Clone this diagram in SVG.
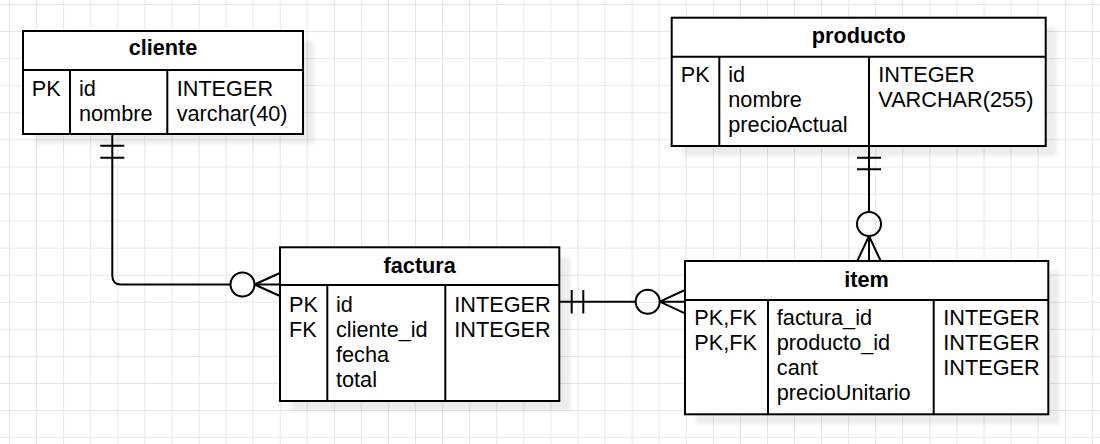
<svg xmlns="http://www.w3.org/2000/svg" width="1100" height="444" viewBox="0 0 1100 444">
<defs>
<pattern id="grid" x="9" y="4" width="27.07" height="27.07" patternUnits="userSpaceOnUse">
<path d="M0,0 H27.07 M0,0 V27.07" stroke="#e0e0e0" stroke-width="1.6" fill="none"/>
</pattern>
<filter id="blur" x="-10%" y="-10%" width="120%" height="120%"><feGaussianBlur stdDeviation="2"/></filter>
<style>
.t{font-family:"Liberation Sans",Arial,Helvetica,sans-serif;font-size:21.7px;fill:#000}
.h{font-weight:bold;text-anchor:middle}
.box{fill:#fff;stroke:#000;stroke-width:2}
.ln{stroke:#000;stroke-width:2;fill:none}
.sh{fill:#000;opacity:0.07;filter:url(#blur)}
</style>
</defs>
<rect width="1100" height="444" fill="#fff"/>
<rect width="1100" height="444" fill="url(#grid)"/>

<g id="connectors">
<!-- cliente to factura -->
<path class="ln" d="M112.3,134.3 V275.5 Q112.3,284.5 121.3,284.5 H230.5"/>
<path class="ln" d="M100.3,145.7 H124.3 M100.3,157.7 H124.3"/>
<circle class="ln" cx="242.5" cy="284.5" r="12"/>
<path class="ln" d="M254.5,284.5 L280,273 M254.5,284.5 L280,296 M254.5,284.5 H280"/>
<!-- producto to item -->
<path class="ln" d="M869,146 V212"/>
<path class="ln" d="M857,157.7 H881 M857,169.3 H881"/>
<circle class="ln" cx="869" cy="224" r="12"/>
<path class="ln" d="M869,236 L857.3,261 M869,236 L880.7,261 M869,236 V261"/>
<!-- factura to item -->
<path class="ln" d="M559.3,301.7 H635.7"/>
<path class="ln" d="M571.7,290 V313.4 M583.3,290 V313.4"/>
<circle class="ln" cx="647.7" cy="301.7" r="12"/>
<path class="ln" d="M659.7,301.7 L685,290 M659.7,301.7 L685,313.4 M659.7,301.7 H685"/>
</g>

<g id="cliente">
<rect class="sh" x="34" y="41" width="280" height="103"/>
<rect class="box" x="23" y="31" width="280" height="103"/>
<path class="ln" d="M23,70 H303 M70,70 V134 M167.3,70 V134"/>
<text class="t h" x="163" y="55">cliente</text>
<text class="t" x="31.7" y="95.7">PK</text>
<text class="t"><tspan x="79" y="95.7">id</tspan><tspan x="79" y="121.2">nombre</tspan></text>
<text class="t"><tspan x="176.7" y="95.7">INTEGER</tspan><tspan x="176.7" y="121.2">varchar(40)</tspan></text>
</g>

<g id="producto">
<rect class="sh" x="682.7" y="27.7" width="374" height="128.3"/>
<rect class="box" x="671.7" y="17.7" width="374" height="128.3"/>
<path class="ln" d="M671.7,56.7 H1045.7 M719.3,56.7 V146 M869,56.7 V146"/>
<text class="t h" x="858.7" y="43.3">producto</text>
<text class="t" x="680.7" y="81.7">PK</text>
<text class="t"><tspan x="728.3" y="81.7">id</tspan><tspan x="728.3" y="107">nombre</tspan><tspan x="728.3" y="132.3">precioActual</tspan></text>
<text class="t"><tspan x="878.3" y="81.7">INTEGER</tspan><tspan x="878.3" y="107">VARCHAR(255)</tspan></text>
</g>

<g id="factura">
<rect class="sh" x="291" y="257.3" width="279.3" height="153.7"/>
<rect class="box" x="280" y="247.3" width="279.3" height="153.7"/>
<path class="ln" d="M280,285 H559.3 M327.3,285 V401 M445.3,285 V401"/>
<text class="t h" x="419.7" y="273.3">factura</text>
<text class="t"><tspan x="289" y="311.7">PK</tspan><tspan x="289" y="336.7">FK</tspan></text>
<text class="t"><tspan x="336" y="311.7">id</tspan><tspan x="336" y="336.7">cliente_id</tspan><tspan x="336" y="361.7">fecha</tspan><tspan x="336" y="386.7">total</tspan></text>
<text class="t"><tspan x="454.3" y="311.7">INTEGER</tspan><tspan x="454.3" y="336.7">INTEGER</tspan></text>
</g>

<g id="item">
<rect class="sh" x="696" y="271" width="363.3" height="153.3"/>
<rect class="box" x="685" y="261" width="363.3" height="153.3"/>
<path class="ln" d="M685,300 H1048.3 M768,300 V414.3 M933.7,300 V414.3"/>
<text class="t h" x="866.6" y="287">item</text>
<text class="t"><tspan x="694.3" y="324.5">PK,FK</tspan><tspan x="694.3" y="349.5">PK,FK</tspan></text>
<text class="t"><tspan x="776.8" y="324.5">factura_id</tspan><tspan x="776.8" y="349.5">producto_id</tspan><tspan x="776.8" y="374.5">cant</tspan><tspan x="776.8" y="399.5">precioUnitario</tspan></text>
<text class="t"><tspan x="943.3" y="324.5">INTEGER</tspan><tspan x="943.3" y="349.5">INTEGER</tspan><tspan x="943.3" y="374.5">INTEGER</tspan></text>
</g>
</svg>
